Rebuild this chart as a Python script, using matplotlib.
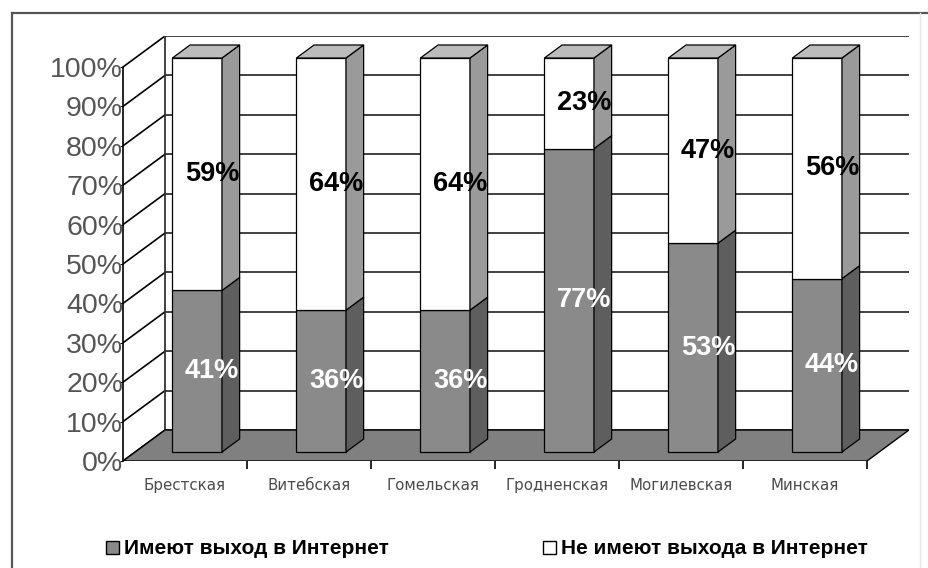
import numpy as np
import matplotlib
matplotlib.use('Agg')
import matplotlib.pyplot as plt
from matplotlib.patches import Polygon, Patch
from matplotlib.lines import Line2D

# ---------------------------------------------------------------------------
# DATA
# ---------------------------------------------------------------------------
REGIONS = ['Брестская', 'Витебская', 'Гомельская', 'Гродненская',
           'Могилевская', 'Минская']
HAVE_ACCESS = [41, 36, 36, 77, 53, 44]       # %
NO_ACCESS = [59, 64, 64, 23, 47, 56]         # %
Y_TICKS = list(range(0, 101, 10))
SERIES_NAMES = ['Имеют выход в Интернет', 'Не имеют выхода в Интернет']

# ---------------------------------------------------------------------------
# STYLE / GEOMETRY (oblique 3-D look, in data units)
# ---------------------------------------------------------------------------
W_PX, H_PX, DPI = 929, 568, 100
DEPTH_X = 0.339          # depth offset in category units
DEPTH_Y = 7.87           # depth offset in percent units
BAR_W = 0.40
F_FRONT, F_BACK = 0.29, 0.71

GREY_FRONT, GREY_SIDE, GREY_TOP = '#8a8a8a', '#5e5e5e', '#a8a8a8'
WHITE_FRONT, WHITE_SIDE, WHITE_TOP = '#ffffff', '#9a9a9a', '#bcbcbc'
FLOOR = '#808080'
GRID = '#333333'

plt.rcParams['font.family'] = ['Liberation Sans', 'DejaVu Sans']

fig = plt.figure(figsize=(W_PX / DPI, H_PX / DPI), dpi=DPI)
n = len(REGIONS)
ax = fig.add_axes([123 / W_PX, (H_PX - 461) / H_PX, 786 / W_PX, 425 / H_PX])
ax.set_xlim(0, n + DEPTH_X)
ax.set_ylim(0, 100 + DEPTH_Y)
ax.patch.set_visible(False)

# back wall grid + side wall diagonals
for v in Y_TICKS:
    ax.plot([DEPTH_X, n + DEPTH_X], [v + DEPTH_Y, v + DEPTH_Y], color=GRID, lw=1.3, zorder=1)
    ax.plot([0, DEPTH_X], [v, v + DEPTH_Y], color='black', lw=1.2, zorder=1)
ax.plot([DEPTH_X, DEPTH_X], [DEPTH_Y, 100 + DEPTH_Y], color=GRID, lw=1.3, zorder=1)

# floor
ax.add_patch(Polygon([(0, 0), (n, 0), (n + DEPTH_X, DEPTH_Y), (DEPTH_X, DEPTH_Y)],
                     closed=True, facecolor=FLOOR, edgecolor='black', lw=1.0, zorder=2))


def face_pts(x0, x1, y0, y1, f):
    dx, dy = f * DEPTH_X, f * DEPTH_Y
    return [(x0 + dx, y0 + dy), (x1 + dx, y0 + dy), (x1 + dx, y1 + dy), (x0 + dx, y1 + dy)]


def side_pts(x, y0, y1):
    a, b = F_FRONT, F_BACK
    return [(x + a * DEPTH_X, y0 + a * DEPTH_Y), (x + b * DEPTH_X, y0 + b * DEPTH_Y),
            (x + b * DEPTH_X, y1 + b * DEPTH_Y), (x + a * DEPTH_X, y1 + a * DEPTH_Y)]


def top_pts(x0, x1, y):
    a, b = F_FRONT, F_BACK
    return [(x0 + a * DEPTH_X, y + a * DEPTH_Y), (x1 + a * DEPTH_X, y + a * DEPTH_Y),
            (x1 + b * DEPTH_X, y + b * DEPTH_Y), (x0 + b * DEPTH_X, y + b * DEPTH_Y)]


for i, (h1, h2) in enumerate(zip(HAVE_ACCESS, NO_ACCESS)):
    x0 = i + 0.5 - BAR_W / 2
    x1 = x0 + BAR_W
    segs = [(0, h1, GREY_FRONT, GREY_SIDE, 'white', h1),
            (h1, h1 + h2, WHITE_FRONT, WHITE_SIDE, 'black', h2)]
    for y0, y1, cf, cs, tc, val in segs:
        ax.add_patch(Polygon(face_pts(x0, x1, y0, y1, F_FRONT), closed=True,
                             facecolor=cf, edgecolor='black', lw=0.9, zorder=3))
        ax.add_patch(Polygon(side_pts(x1, y0, y1), closed=True,
                             facecolor=cs, edgecolor='black', lw=0.9, zorder=3))
        ax.text(i + 0.5 + 0.12 + F_FRONT * DEPTH_X, (y0 + y1) / 2 + F_FRONT * DEPTH_Y,
                f'{val}%', ha='center', va='center', color=tc, fontsize=19.5,
                fontweight='bold', zorder=5)
    ax.add_patch(Polygon(top_pts(x0, x1, h1 + h2), closed=True,
                         facecolor=WHITE_TOP, edgecolor='black', lw=0.9, zorder=3))

# axes / ticks
for s in ['top', 'right', 'bottom']:
    ax.spines[s].set_visible(False)
ax.spines['left'].set_bounds(0, 100)
ax.spines['left'].set_linewidth(1.2)
ax.set_yticks(Y_TICKS)
ax.set_yticklabels([f'{v}%' for v in Y_TICKS], fontsize=20.5, color='#555555')
ax.tick_params(axis='y', length=2, pad=-2)

ax.set_xticks(np.arange(1, n + 1))
ax.set_xticklabels([''] * n)
ax.tick_params(axis='x', which='major', length=6, width=1.2, direction='out')
ax.set_xticks(np.arange(n) + 0.5, minor=True)
ax.set_xticklabels(REGIONS, minor=True, fontsize=10.8, color='#4a4a4a',
                   family=['DejaVu Sans'])
ax.tick_params(axis='x', which='minor', length=0, pad=12)

# legend
handles = [Patch(facecolor=GREY_FRONT, edgecolor='black', lw=1.0),
           Patch(facecolor='white', edgecolor='black', lw=1.0)]
fig.legend(handles, SERIES_NAMES, loc='center', bbox_to_anchor=(487 / W_PX, 1 - 549 / H_PX),
           ncol=2, frameon=False, prop={'size': 15, 'weight': 'bold'},
           handlelength=0.6, handleheight=0.6, handletextpad=0.25, columnspacing=7.4)

# outer frame
ytop = 1 - 13 / H_PX
fig.add_artist(Line2D([12 / W_PX, 12 / W_PX], [0, ytop], color='#555555', lw=1.6))
fig.add_artist(Line2D([12 / W_PX, 1], [ytop, ytop], color='#555555', lw=1.6))
fig.add_artist(Line2D([920 / W_PX, 920 / W_PX], [0, ytop], color='#e6e6e6', lw=1.0))

fig.savefig('out.png', dpi=DPI)
plt.close(fig)
